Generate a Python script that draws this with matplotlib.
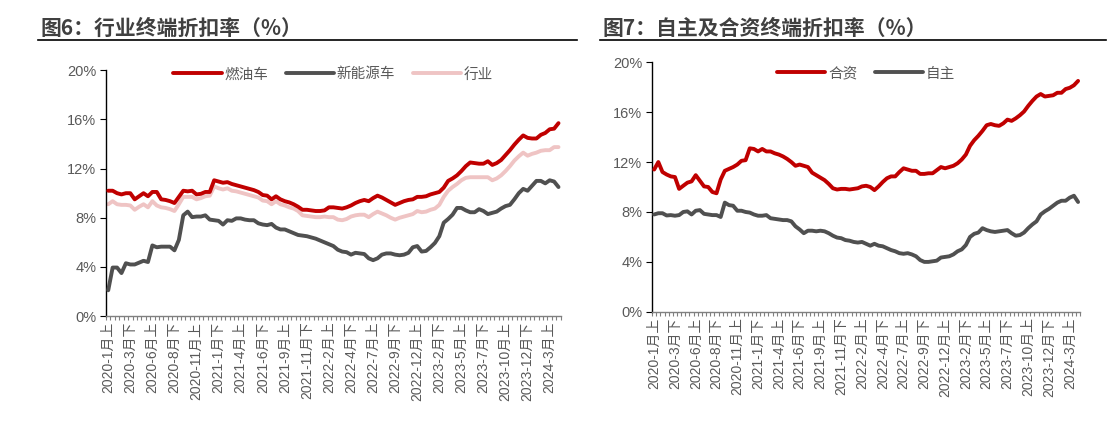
import numpy as np
import matplotlib
matplotlib.use("Agg")
import matplotlib.pyplot as plt
from matplotlib.ticker import FixedLocator, FuncFormatter

plt.rcParams['font.family'] = ['Liberation Sans', 'Noto Sans CJK SC', 'DejaVu Sans']

# half-month categories: 2020-1月上 ... (103 periods)
labels = []
for y in range(2020, 2025):
    for m in range(1, 13):
        for h in ['上', '下']:
            labels.append(f"{y}-{m}月{h}")
labels = labels[:103]

# figure 6: 燃油车 / 新能源车 / 行业
fuel = [10.2, 10.2, 10.0, 9.9, 10.0, 10.0, 9.5, 9.75, 10.0, 9.75, 10.1, 10.1, 9.5, 9.45, 9.35, 9.2, 9.7, 10.2,
        10.15, 10.2, 9.9, 9.95, 10.1, 10.1, 11.05, 10.95, 10.85, 10.9, 10.75, 10.65, 10.55, 10.45, 10.35, 10.25,
        10.1, 9.85, 9.8, 9.5, 9.75, 9.5, 9.35, 9.25, 9.1, 8.9, 8.65, 8.65, 8.6, 8.55, 8.55, 8.6, 8.85, 8.85, 8.8,
        8.75, 8.85, 9.0, 9.2, 9.35, 9.45, 9.35, 9.6, 9.8, 9.65, 9.45, 9.25, 9.05, 9.2, 9.35, 9.45, 9.5, 9.7, 9.7,
        9.75, 9.9, 10.0, 10.1, 10.45, 11.0, 11.2, 11.45, 11.8, 12.2, 12.5, 12.45, 12.4, 12.4, 12.6, 12.3, 12.45,
        12.7, 13.1, 13.5, 13.95, 14.35, 14.7, 14.5, 14.45, 14.45, 14.75, 14.9, 15.2, 15.25, 15.7]
nev = [2.1, 3.95, 3.95, 3.5, 4.3, 4.2, 4.2, 4.35, 4.5, 4.4, 5.75, 5.6, 5.65, 5.65, 5.65, 5.35, 6.2, 8.2, 8.5,
       8.05, 8.1, 8.1, 8.2, 7.85, 7.8, 7.75, 7.45, 7.8, 7.75, 7.95, 7.95, 7.85, 7.8, 7.8, 7.55, 7.45, 7.4, 7.5,
       7.2, 7.05, 7.05, 6.9, 6.75, 6.6, 6.55, 6.5, 6.4, 6.3, 6.15, 6.0, 5.85, 5.7, 5.4, 5.25, 5.2, 5.0, 5.15, 5.1,
       5.05, 4.7, 4.55, 4.7, 5.0, 5.1, 5.1, 5.0, 4.95, 5.0, 5.15, 5.6, 5.7, 5.25, 5.3, 5.6, 5.95, 6.5, 7.6, 7.9,
       8.25, 8.8, 8.8, 8.6, 8.45, 8.45, 8.7, 8.55, 8.3, 8.4, 8.5, 8.75, 8.95, 9.05, 9.5, 10.0, 10.35, 10.2, 10.6,
       11.0, 11.0, 10.8, 11.05, 10.95, 10.5]
industry = [9.1, 9.35, 9.1, 9.05, 9.05, 9.0, 8.65, 8.9, 9.1, 8.85, 9.35, 9.0, 8.85, 8.8, 8.7, 8.55, 9.1, 9.7,
            9.7, 9.7, 9.5, 9.6, 9.75, 9.8, 10.55, 10.4, 10.3, 10.4, 10.2, 10.15, 10.05, 9.95, 9.85, 9.75, 9.65,
            9.4, 9.35, 9.1, 9.35, 9.1, 9.0, 8.85, 8.75, 8.55, 8.2, 8.15, 8.1, 8.05, 8.05, 8.1, 8.05, 8.05, 7.85,
            7.8, 7.9, 8.1, 8.2, 8.25, 8.25, 8.05, 8.3, 8.5, 8.35, 8.2, 8.0, 7.85, 8.0, 8.1, 8.2, 8.3, 8.55, 8.45,
            8.5, 8.65, 8.75, 9.05, 9.7, 10.2, 10.5, 10.75, 11.05, 11.25, 11.3, 11.3, 11.3, 11.3, 11.3, 11.05, 11.2,
            11.45, 11.8, 12.2, 12.65, 13.0, 13.3, 13.05, 13.2, 13.3, 13.45, 13.5, 13.5, 13.75, 13.75]

# figure 7: 合资 / 自主
jv = [11.4, 12.0, 11.2, 11.0, 10.85, 10.8, 9.85, 10.1, 10.35, 10.45, 10.95, 10.5, 10.05, 10.0, 9.6, 9.5, 10.6,
      11.3, 11.45, 11.6, 11.8, 12.1, 12.15, 13.1, 13.05, 12.85, 13.05, 12.85, 12.85, 12.7, 12.6, 12.45, 12.25,
      12.0, 11.7, 11.8, 11.7, 11.6, 11.15, 10.95, 10.75, 10.55, 10.25, 9.9, 9.8, 9.85, 9.85, 9.8, 9.85, 9.9,
      10.05, 10.1, 10.0, 9.75, 10.05, 10.4, 10.7, 10.85, 10.85, 11.2, 11.5, 11.4, 11.3, 11.3, 11.05, 11.05, 11.1,
      11.1, 11.35, 11.6, 11.5, 11.6, 11.7, 11.9, 12.2, 12.6, 13.3, 13.75, 14.1, 14.5, 14.95, 15.05, 14.95, 14.9,
      15.1, 15.4, 15.3, 15.5, 15.75, 16.05, 16.5, 16.9, 17.25, 17.45, 17.25, 17.3, 17.35, 17.55, 17.55, 17.85,
      17.95, 18.15, 18.5]
domestic = [7.8, 7.9, 7.9, 7.72, 7.75, 7.7, 7.75, 8.0, 8.05, 7.8, 8.1, 8.15, 7.85, 7.8, 7.75, 7.75, 7.6, 8.75,
            8.55, 8.5, 8.1, 8.1, 8.0, 7.95, 7.8, 7.7, 7.7, 7.75, 7.5, 7.45, 7.4, 7.35, 7.35, 7.25, 6.85, 6.6, 6.3,
            6.5, 6.5, 6.45, 6.5, 6.45, 6.3, 6.1, 5.95, 5.9, 5.75, 5.7, 5.6, 5.55, 5.6, 5.45, 5.3, 5.45, 5.3, 5.25,
            5.1, 4.95, 4.85, 4.7, 4.65, 4.7, 4.6, 4.45, 4.15, 4.0, 4.0, 4.05, 4.1, 4.35, 4.4, 4.45, 4.6, 4.85, 5.0,
            5.35, 6.0, 6.25, 6.35, 6.7, 6.55, 6.45, 6.4, 6.45, 6.5, 6.55, 6.3, 6.1, 6.15, 6.35, 6.7, 7.0, 7.25, 7.8,
            8.05, 8.25, 8.5, 8.75, 8.9, 8.9, 9.15, 9.3, 8.8]

RED = '#C00000'
DARK = '#505050'
PINK = '#EFC4C4'
TXT = '#595959'

fig = plt.figure(figsize=(11.09, 4.26), dpi=100)
ax1 = fig.add_axes([0.0956, 0.258, 0.410, 0.577])
ax2 = fig.add_axes([0.588, 0.268, 0.386, 0.586])


def style_axis(ax, n):
    x = np.arange(n)
    ax.set_xlim(-0.5, n - 0.5)
    ax.set_ylim(0, 20)
    ax.yaxis.set_major_locator(FixedLocator([0, 4, 8, 12, 16, 20]))
    ax.yaxis.set_major_formatter(FuncFormatter(lambda v, p: f"{v:.0f}%"))
    ax.set_xticks(x[::5])
    ax.set_xticklabels(labels[:n:5], rotation=90, fontsize=10, color=TXT)
    ax.xaxis.set_minor_locator(FixedLocator(np.arange(-0.5, n, 1)))
    ax.tick_params(axis='x', which='major', length=0, pad=4)
    ax.tick_params(axis='x', which='minor', length=3, color='#808080', width=0.8)
    ax.tick_params(axis='y', which='major', length=4, color='black', labelsize=10.5,
                   labelcolor=TXT, pad=3)
    for s in ['top', 'right']:
        ax.spines[s].set_visible(False)
    ax.spines['left'].set_color('black')
    ax.spines['left'].set_linewidth(1.0)
    ax.spines['bottom'].set_color('#808080')
    ax.spines['bottom'].set_linewidth(1.0)


n = len(labels)
x = np.arange(n)
ax1.plot(x, fuel, color=RED, lw=2.8, label='燃油车', solid_capstyle='round', zorder=3)
ax1.plot(x, nev, color=DARK, lw=2.8, label='新能源车', solid_capstyle='round', zorder=3)
ax1.plot(x, industry, color=PINK, lw=2.8, label='行业', solid_capstyle='round', zorder=2)
style_axis(ax1, n)
ax1.legend(loc='upper center', bbox_to_anchor=(0.5, 1.065), ncol=3, frameon=False,
           fontsize=10.5, handlelength=3.3, columnspacing=1.2, handletextpad=0.2,
           labelcolor=TXT)

ax2.plot(x, jv, color=RED, lw=2.8, label='合资', solid_capstyle='round', zorder=3)
ax2.plot(x, domestic, color=DARK, lw=2.8, label='自主', solid_capstyle='round', zorder=3)
style_axis(ax2, n)
ax2.legend(loc='upper center', bbox_to_anchor=(0.5, 1.035), ncol=2, frameon=False,
           fontsize=10.5, handlelength=3.3, columnspacing=1.2, handletextpad=0.2,
           labelcolor=TXT)

# titles with underline
fig.text(40 / 1109, 1 - 28 / 426, '图6：行业终端折扣率（%）', fontsize=15, fontweight='bold',
         color='#404040', va='center', ha='left', family=['Noto Sans CJK SC'])
fig.text(603 / 1109, 1 - 28 / 426, '图7：自主及合资终端折扣率（%）', fontsize=15, fontweight='bold',
         color='#404040', va='center', ha='left', family=['Noto Sans CJK SC'])
fig.add_artist(plt.Line2D([38 / 1109, 577 / 1109], [1 - 40 / 426] * 2, color='black', lw=1.2))
fig.add_artist(plt.Line2D([600 / 1109, 1106 / 1109], [1 - 40 / 426] * 2, color='black', lw=1.2))

fig.savefig('out.png', dpi=100)
